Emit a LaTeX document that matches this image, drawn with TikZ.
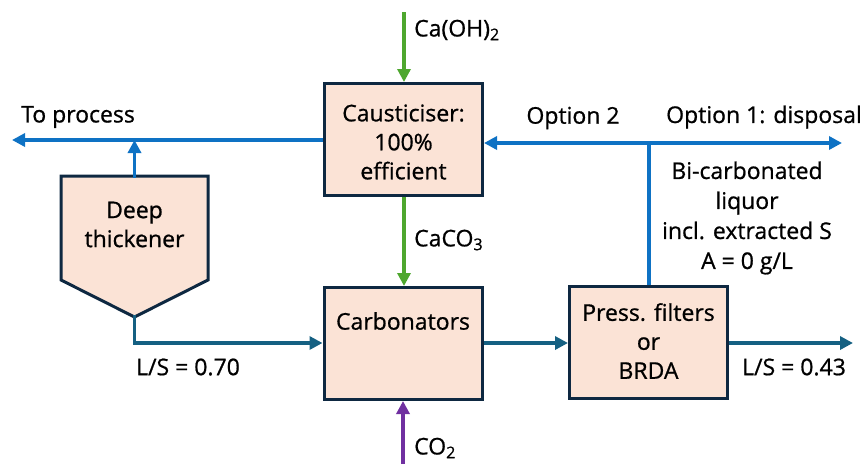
\documentclass[tikz,border=0pt]{standalone}
\usepackage{fontspec}
\setmainfont{Open Sans}[UprightFeatures={FakeBold=0.8}]
\usetikzlibrary{arrows.meta}
\definecolor{boxfill}{HTML}{FBE3D6}
\definecolor{boxline}{HTML}{0E2841}
\definecolor{brightblue}{HTML}{0E72C4}
\definecolor{tealblue}{HTML}{156082}
\definecolor{limegreen}{HTML}{4EA72E}
\definecolor{cpurple}{HTML}{7030A0}
\tikzset{
  unitbox/.style={draw=boxline, line width=3pt, fill=boxfill, minimum width=158pt, minimum height=112pt, inner sep=0pt},
  txt/.style={font=\fontsize{23}{29}\selectfont, text=black, inner sep=0pt, align=center},
  flow/.style={line width=3.5pt, -{Triangle[length=13pt,width=13pt]}},
  plain/.style={line width=3.5pt},
}
\begin{document}
\begin{tikzpicture}[x=1pt,y=-1pt]
\useasboundingbox (0,0) rectangle (867,464);
% boxes
\node[unitbox] (caust) at (403.5,139.5) {};
\node[txt] (causttxt) at (403.5,142) {Causticiser:\\100\%\\efficient};
\node[unitbox] (carb) at (403,343.5) {};
\node[txt] (carbtxt) at (403,321) {Carbonators};
\node[unitbox] (press) at (648.5,342.5) {};
\node[txt] (presstxt) at (648.5,341) {Press. filters\\or\\BRDA};
% thickener
\draw[draw=boxline, line width=3pt, fill=boxfill, line join=miter]
  (61,176) -- (208,176) -- (208,280) -- (134.5,317) -- (61,280) -- cycle;
\node[txt] (thick) at (134.5,224.5) {Deep\\thickener};
\coordinate (thtop) at (134.5,177.5);
\coordinate (thbot) at (134.5,315);
% coordinates
\coordinate (caohin) at (404,12);
\coordinate (co2in) at (403,464);
\coordinate (toproc) at (12,140);
\coordinate (j1) at (134.5,140);
\coordinate (corner) at (134.5,343);
\coordinate (j2) at (649,143);
\coordinate (disp) at (842,143);
\coordinate (out) at (853,343);
% connectors
\draw[flow, limegreen] (caohin) -- (caust.north -| caohin);
\draw[flow, limegreen] (caust.south -| caohin) -- (carb.north -| caohin);
\draw[flow, cpurple] (co2in) -- (carb.south -| co2in);
\draw[flow, brightblue] (caust.west |- toproc) -- (toproc);
\draw[flow, brightblue] (thtop) -- (j1);
\draw[flow, tealblue] (thbot) -- (corner) -- (carb.west |- corner);
\draw[flow, tealblue] (carb.east |- corner) -- (press.west |- corner);
\draw[flow, tealblue] (press.east |- corner) -- (out);
\draw[plain, brightblue] (press.north -| j2) -- (j2);
\draw[flow, brightblue] (j2) -- (caust.east |- j2);
\draw[flow, brightblue] (j2) -- (disp);
% labels
\node[txt, anchor=west] (lproc) at (21,117) {To process};
\node[txt] (lopt2) at (573,118) {Option 2};
\node[txt] (lopt1) at (764,117) {Option 1: disposal};
\node[txt, anchor=west] (lcaoh) at (414,30) {Ca(OH)\textsubscript{2}};
\node[txt, anchor=west] (lcaco) at (414,240) {CaCO\textsubscript{3}};
\node[txt, anchor=west] (lco2) at (414,448) {CO\textsubscript{2}};
\node[txt, anchor=west] (lls1) at (136,367) {L/S = 0.70};
\node[txt, anchor=west] (lls2) at (742,367) {L/S = 0.43};
\node[txt, font=\fontsize{23}{30}\selectfont] (lbic) at (747,218) {Bi-carbonated\\liquor\\incl. extracted S\\A = 0 g/L};
\end{tikzpicture}
\end{document}
